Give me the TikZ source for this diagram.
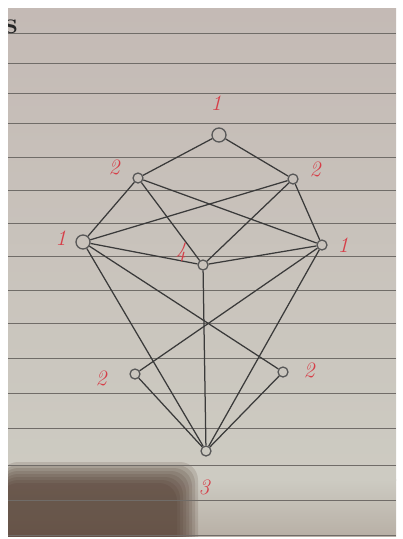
\documentclass[tikz,border=0pt]{standalone}
\usepackage{tikz}
\usepackage{xcolor}
\definecolor{paper}{RGB}{196,186,181}
\definecolor{paperlow}{RGB}{205,203,194}
\definecolor{paperdark}{RGB}{184,176,166}
\definecolor{pencil}{RGB}{58,58,58}
\definecolor{rule}{RGB}{112,108,104}
\definecolor{redink}{RGB}{214,62,72}
\definecolor{shadowbrown}{RGB}{78,56,44}

\begin{document}
\begin{tikzpicture}[x=1pt, y=-1pt,
    vert/.style={draw=pencil!85, line width=1.3pt, circle, inner sep=0pt, minimum size=10pt},
    bigvert/.style={vert, minimum size=14pt},
    edge/.style={draw=pencil, line width=1.25pt},
    lbl/.style={text=redink, font=\fontsize{22}{22}\selectfont\itshape}]
    % paper
    \fill[white] (0,0) rectangle (403,539);
    \begin{scope}
    \clip (8,8) rectangle (396,536);
    \shade[top color=paper, bottom color=paperlow] (8,8) rectangle (396,480);
    \shade[top color=paperlow, bottom color=paperdark] (8,479) rectangle (396,536);
    \foreach \i in {0,...,7}
        \fill[shadowbrown, opacity=0.16, rounded corners=18pt] (0,462+\i*3) rectangle (198-\i*3,560);
    \foreach \y in {33,63,93,123,157,190,223,256,290,323,358,393,428,465,500,535}
        \draw[rule, line width=0.9pt] (8,\y) -- (396,\y);
    \node[text=black!85, font=\fontsize{30}{30}\selectfont\bfseries] (smark) at (11,27) {s};
    \end{scope}
    % vertices
    \node[bigvert] (t) at (219,135) {};
    \node[vert] (ul) at (138,178) {};
    \node[vert] (ur) at (293,179) {};
    \node[bigvert] (l) at (83,242) {};
    \node[vert] (r) at (322,245) {};
    \node[vert] (c) at (203,265) {};
    \node[vert] (ll) at (135,374) {};
    \node[vert] (lr) at (283,372) {};
    \node[vert] (b) at (206,451) {};
    % edges
    \draw[edge] (t) -- (ul);
    \draw[edge] (t) -- (ur);
    \draw[edge] (ul) -- (l);
    \draw[edge] (ul) -- (c);
    \draw[edge] (ul) -- (r);
    \draw[edge] (ur) -- (l);
    \draw[edge] (ur) -- (c);
    \draw[edge] (ur) -- (r);
    \draw[edge] (l) -- (c);
    \draw[edge] (c) -- (r);
    \draw[edge] (l) -- (lr);
    \draw[edge] (l) -- (b);
    \draw[edge] (r) -- (ll);
    \draw[edge] (r) -- (b);
    \draw[edge] (c) -- (b);
    \draw[edge] (ll) -- (b);
    \draw[edge] (lr) -- (b);
    % labels
    \node[lbl] (tl) at (216,103) {1};
    \node[lbl] (ull) at (114,167) {2};
    \node[lbl] (url) at (315,169) {2};
    \node[lbl] (lla) at (61,238) {1};
    \node[lbl] (rl) at (343,245) {1};
    \node[lbl] (cl) at (181,252) {4};
    \node[lbl] (lll) at (101,378) {2};
    \node[lbl] (lrl) at (309,370) {2};
    \node[lbl] (bl) at (204,487) {3};
\end{tikzpicture}
\end{document}
